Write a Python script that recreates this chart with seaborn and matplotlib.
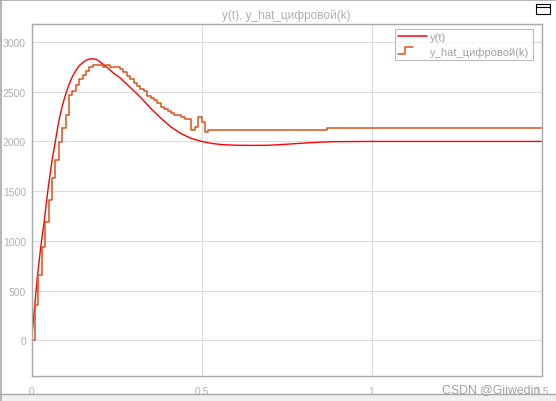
import numpy as np
import pandas as pd
import seaborn as sns
import matplotlib.pyplot as plt
from matplotlib.lines import Line2D
from matplotlib.legend_handler import HandlerBase
from matplotlib.patches import Rectangle

# непрерывный выход y(t), точки
y_t = [0.0, 0.0073, 0.017, 0.027, 0.037, 0.05, 0.06, 0.07, 0.08, 0.09,
       0.10, 0.11, 0.12, 0.13, 0.14, 0.15, 0.16, 0.17, 0.18, 0.19,
       0.20, 0.22, 0.24, 0.26, 0.29, 0.32, 0.35, 0.38, 0.41, 0.44,
       0.47, 0.50, 0.53, 0.56, 0.60, 0.65, 0.70, 0.75, 0.80, 0.85,
       0.90, 1.0, 1.5]
y_vals = [0, 270, 636, 936, 1190, 1560, 1800, 2000, 2200, 2350,
          2470, 2570, 2650, 2710, 2760, 2790, 2815, 2828, 2830, 2825,
          2805, 2750, 2690, 2640, 2545, 2445, 2335, 2235, 2145, 2078,
          2030, 2000, 1980, 1968, 1962, 1960, 1962, 1972, 1983, 1993,
          1998, 2000, 2000]

# цифровая оценка y_hat(k), шаг 0.01 c
hat_k = np.round(np.arange(53) * 0.01, 2).tolist() + [0.87, 1.5]
hat_vals = [0, 360, 660, 940, 1190, 1410, 1630, 1810, 1990, 2130,
            2270, 2470, 2510, 2570, 2630, 2670, 2710, 2750, 2770, 2770,
            2770, 2750, 2770, 2750, 2750, 2750, 2730, 2700, 2660, 2630,
            2590, 2560, 2530, 2510, 2460, 2440, 2420, 2390, 2350, 2330,
            2310, 2290, 2270, 2270, 2250, 2230, 2230, 2110, 2150, 2250,
            2200, 2090, 2110, 2130, 2130]

x_ticks = [0, 0.5, 1, 1.5]
x_labels = ['0', '0.5', '1', '1.5']
y_ticks = [0, 500, 1000, 1500, 2000, 2500, 3000]

sns.set_style('white')
plt.rcParams['font.family'] = ['Liberation Sans', 'DejaVu Sans']

txt_gray = '#b0b0b0'


class StepHandler(HandlerBase):
    # значок ступеньки в легенде, как в Simulink scope
    def create_artists(self, legend, orig_handle, xdescent, ydescent,
                       width, height, fontsize, trans):
        lo, hi = -ydescent + height * 0.05, -ydescent + height * 0.95
        xs = [-xdescent, -xdescent + width * 0.25, -xdescent + width * 0.25, -xdescent + width * 0.5]
        ys = [lo, lo, hi, hi]
        ln = Line2D(xs, ys, color=orig_handle.get_color(), lw=orig_handle.get_linewidth(),
                    transform=trans)
        return [ln]


fig = plt.figure(figsize=(5.56, 4.02), dpi=100)
ax = fig.add_axes([0.0567, 0.0622, 0.9173, 0.8756])

df_y = pd.DataFrame({'t': y_t, 'y': y_vals})
df_hat = pd.DataFrame({'t': hat_k, 'y': hat_vals})
sns.lineplot(data=df_y, x='t', y='y', color='#ff0000', lw=1.0, ax=ax)
sns.lineplot(data=df_hat, x='t', y='y', color='#d95319', lw=1.1,
             drawstyle='steps-post', ax=ax)

ax.set_xlim(0, 1.5)
ax.set_ylim(-357, 3180)
ax.set_xticks(x_ticks)
ax.set_xticklabels(x_labels)
ax.set_yticks(y_ticks)
ax.set_xlabel('')
ax.set_ylabel('')
ax.grid(True, color='#dcdcdc', lw=0.8)
for s in ax.spines.values():
    s.set_color('#a8a8a8')
    s.set_linewidth(1.0)
ax.tick_params(axis='both', length=0, labelsize=7.5, labelcolor=txt_gray)
ax.tick_params(axis='x', pad=7)
ax.tick_params(axis='y', pad=4)

fig.text(0.515, 0.962, 'y(t), y_hat_цифровой(k)', ha='center', va='center',
         fontsize=8.5, color=txt_gray)

h1 = Line2D([], [], color='#ff0000', lw=1.1)
h2 = Line2D([], [], color='#d95319', lw=1.1)
leg = ax.legend([h1, h2], ['y(t)', 'y_hat_цифровой(k)'], loc='upper right',
                bbox_to_anchor=(0.983, 0.986), borderaxespad=0, fontsize=8,
                frameon=True, fancybox=False, handlelength=2.6, handletextpad=0.3,
                labelspacing=0.35, borderpad=0.3,
                handler_map={h2: StepHandler()})
leg.get_frame().set_edgecolor('#a8a8a8')
leg.get_frame().set_linewidth(0.8)
for t in leg.get_texts():
    t.set_color('#a0a0a0')

# водяной знак поверх подписи 1.5, как в оригинале
fig.text(0.971, 0.029, 'CSDN @Giiwedin', ha='right', va='center',
         fontsize=8.8, color='#a0a0a0')

# рамка окна scope
fig.add_artist(Line2D([0, 1], [0.997, 0.997], color='#a8a8a8', lw=1.2, transform=fig.transFigure))
fig.add_artist(Line2D([0.002, 0.002], [0, 1], color='#a8a8a8', lw=1.2, transform=fig.transFigure))
fig.add_artist(Rectangle((0, 0), 1, 0.018, transform=fig.transFigure, color='#f0f0f0', zorder=0))
fig.add_artist(Line2D([0, 1], [0.018, 0.018], color='#a8a8a8', lw=1.0, transform=fig.transFigure))
fig.add_artist(Rectangle((0.9645, 0.962), 0.024, 0.026, transform=fig.transFigure,
                         facecolor='white', edgecolor='black', lw=0.8))
fig.add_artist(Line2D([0.9645, 0.9885], [0.981, 0.981], color='black', lw=0.8, transform=fig.transFigure))

fig.savefig('out.png', dpi=100)
